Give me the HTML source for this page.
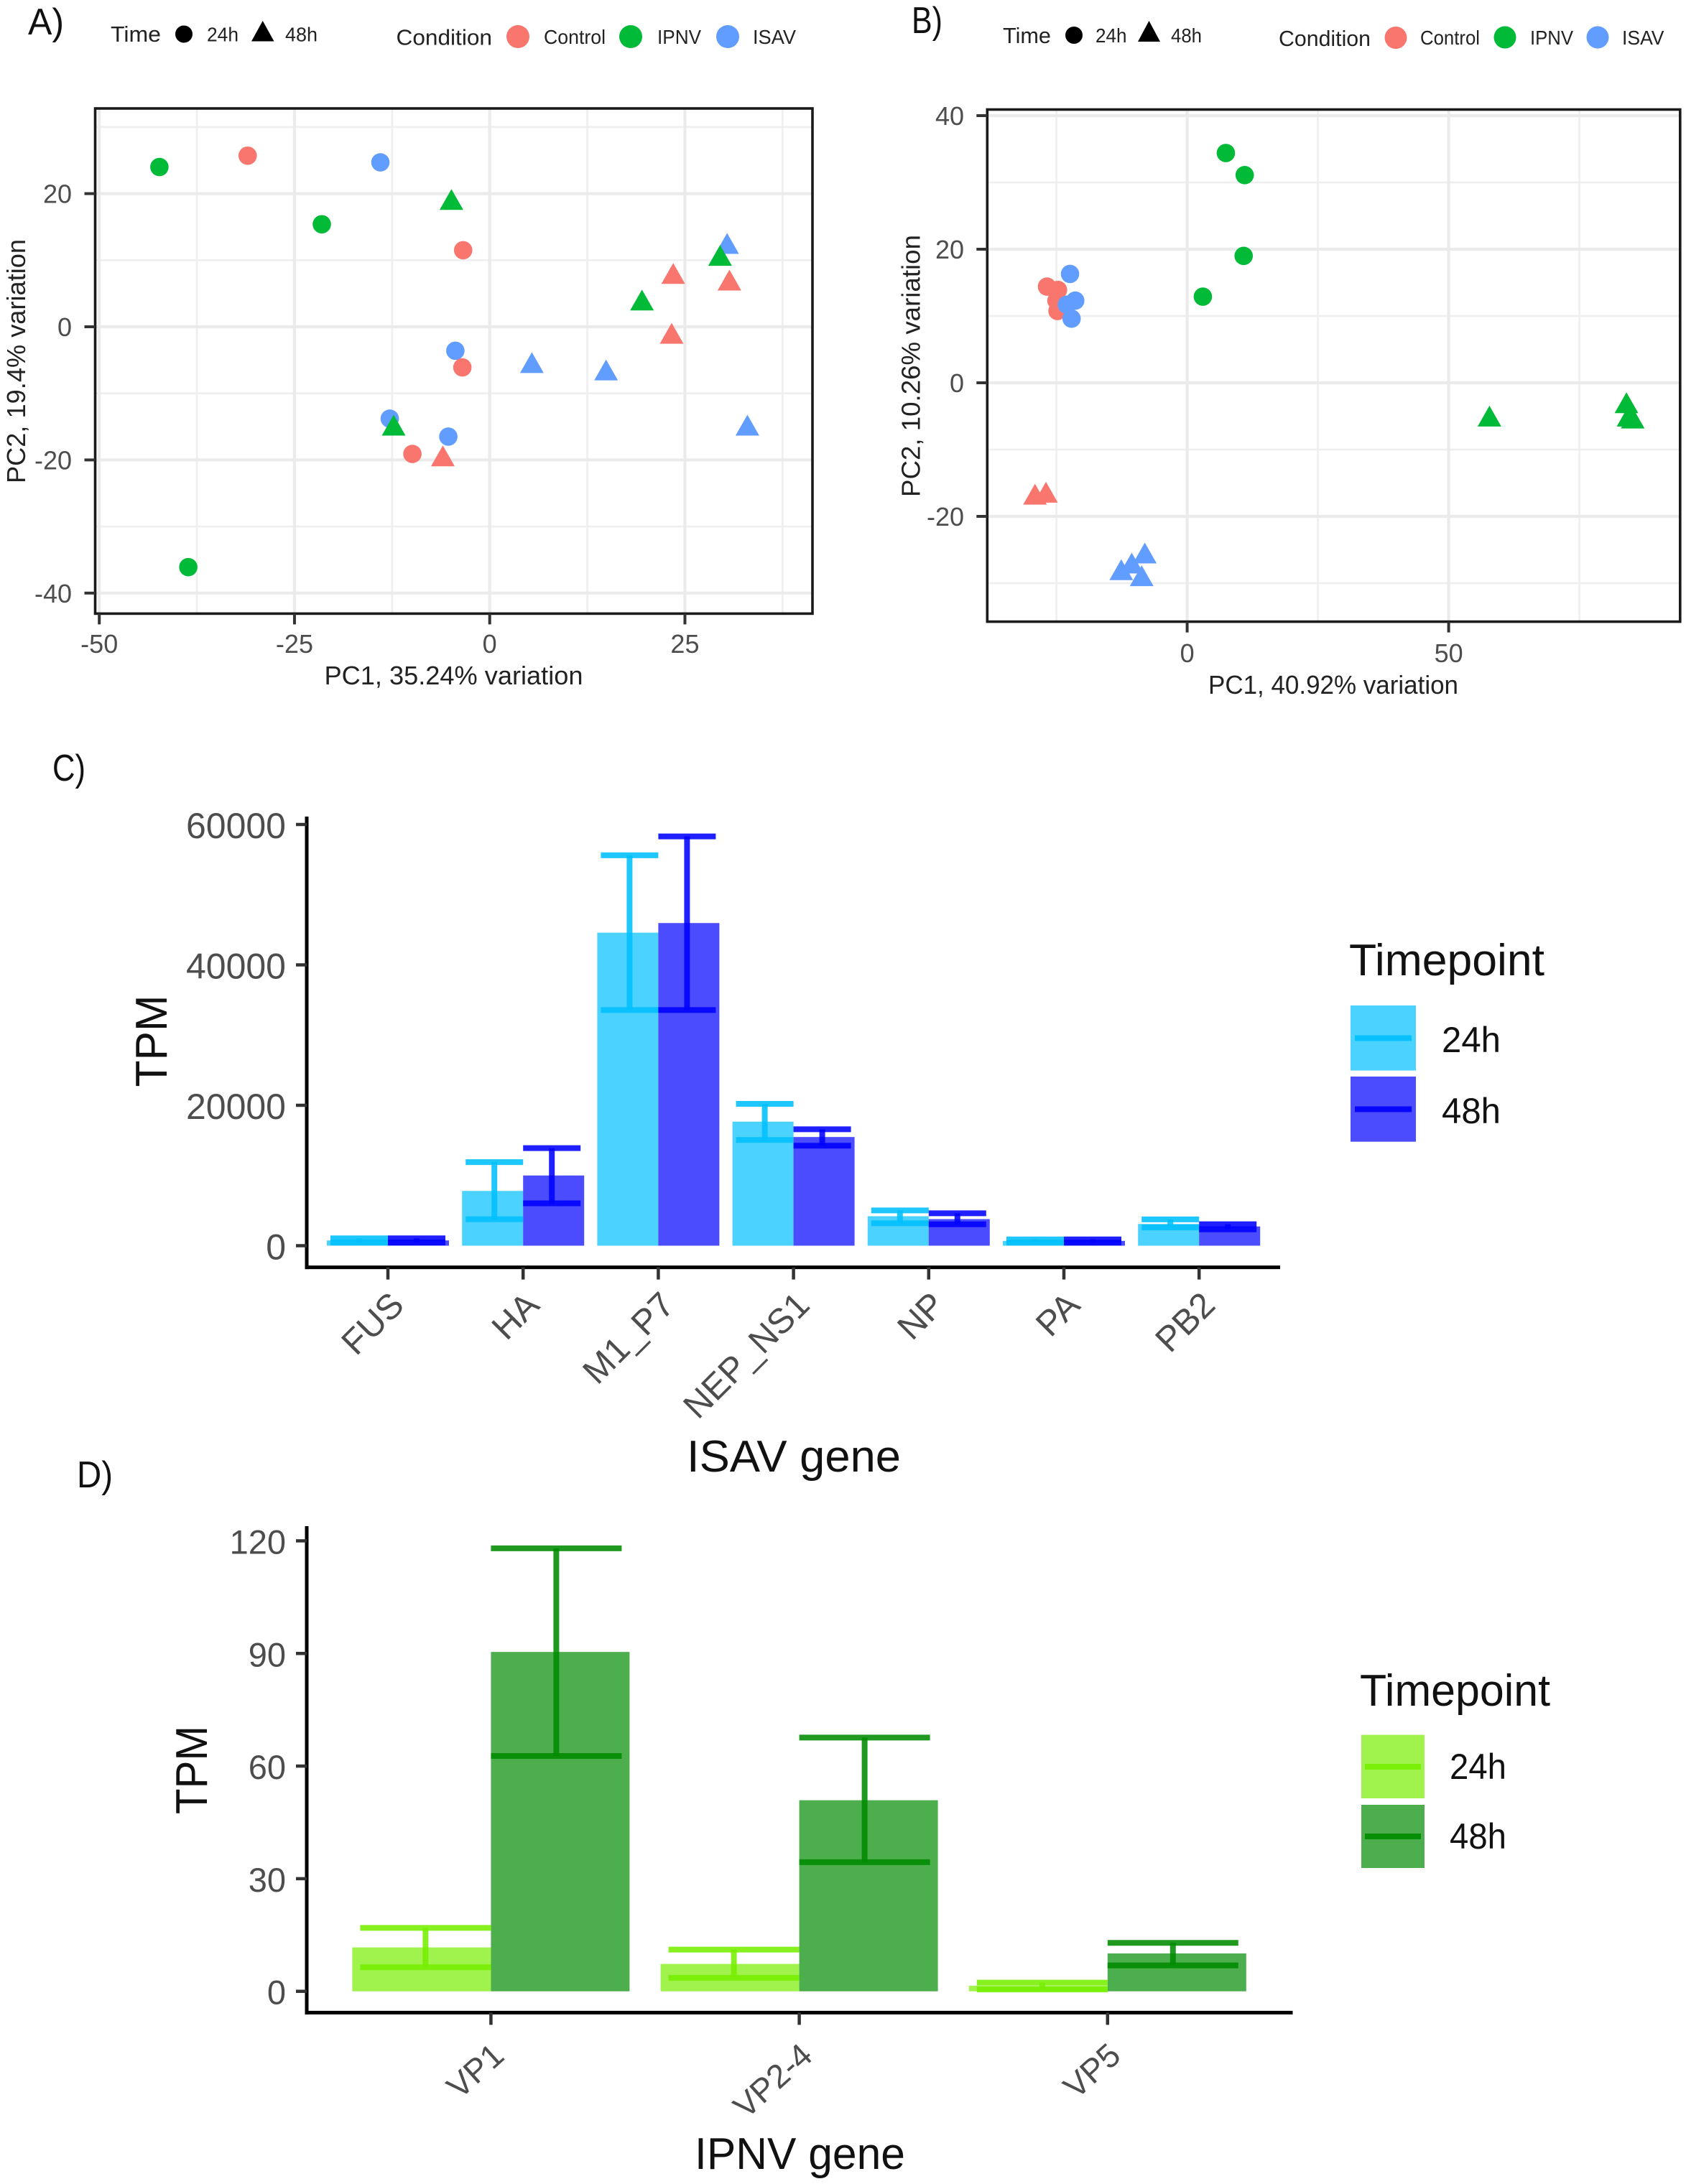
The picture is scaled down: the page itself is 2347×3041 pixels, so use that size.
<!DOCTYPE html>
<html lang="en">
<head>
<meta charset="utf-8">
<title>PCA and viral gene expression figure</title>
<style>
html,body{margin:0;padding:0;background:#fff;}
svg{display:block;font-family:"Liberation Sans",Arial,sans-serif;}
.lett{font-size:52px;fill:#111;}
.axt{font-size:36px;fill:#222;}
.lg{font-size:31px;fill:#222;}
.lgs{font-size:28px;fill:#222;}
.big{font-size:62px;fill:#111;}
.lab{font-size:50px;fill:#111;}
</style>
</head>
<body>
<svg id="fig" xmlns="http://www.w3.org/2000/svg" width="2347" height="3041" viewBox="0 0 2347 3041">
<rect x="0" y="0" width="2347" height="3041" fill="#fff"/>

<text class="lett" x="39" y="48" textLength="50" lengthAdjust="spacingAndGlyphs">A)</text>
<text class="lett" x="1269" y="46" textLength="43" lengthAdjust="spacingAndGlyphs">B)</text>
<text class="lett" x="73" y="1087" textLength="46" lengthAdjust="spacingAndGlyphs">C)</text>
<text class="lett" x="107" y="2071" textLength="50" lengthAdjust="spacingAndGlyphs">D)</text>

<g>
<text class="lg" x="154" y="58" textLength="70" lengthAdjust="spacingAndGlyphs">Time</text>
<circle cx="256" cy="47.5" r="12" fill="#000"/>
<text class="lgs" x="288" y="57.5" textLength="44" lengthAdjust="spacingAndGlyphs">24h</text>
<polygon points="350,57.5 381.5,57.5 365.7,29" fill="#000"/>
<text class="lgs" x="397" y="57.5" textLength="45" lengthAdjust="spacingAndGlyphs">48h</text>
<text class="lg" x="551.5" y="62.5" textLength="133.5" lengthAdjust="spacingAndGlyphs">Condition</text>
<circle cx="721" cy="51" r="16" fill="#F8766D"/>
<text class="lgs" x="757" y="61" textLength="86" lengthAdjust="spacingAndGlyphs">Control</text>
<circle cx="878" cy="51" r="16" fill="#00BA38"/>
<text class="lgs" x="915" y="61" textLength="61" lengthAdjust="spacingAndGlyphs">IPNV</text>
<circle cx="1013" cy="51" r="16" fill="#619CFF"/>
<text class="lgs" x="1048" y="61" textLength="60" lengthAdjust="spacingAndGlyphs">ISAV</text>
</g>

<g>
<text class="lg" x="1396" y="60" textLength="67" lengthAdjust="spacingAndGlyphs">Time</text>
<circle cx="1495" cy="49" r="12" fill="#000"/>
<text class="lgs" x="1525" y="59" textLength="43.5" lengthAdjust="spacingAndGlyphs">24h</text>
<polygon points="1584,58 1615,58 1599.5,29" fill="#000"/>
<text class="lgs" x="1630" y="59" textLength="43" lengthAdjust="spacingAndGlyphs">48h</text>
<text class="lg" x="1780" y="64" textLength="128" lengthAdjust="spacingAndGlyphs">Condition</text>
<circle cx="1943" cy="52.5" r="15.5" fill="#F8766D"/>
<text class="lgs" x="1977" y="62" textLength="83" lengthAdjust="spacingAndGlyphs">Control</text>
<circle cx="2095" cy="52" r="15.5" fill="#00BA38"/>
<text class="lgs" x="2130" y="62" textLength="60" lengthAdjust="spacingAndGlyphs">IPNV</text>
<circle cx="2224" cy="52" r="15.5" fill="#619CFF"/>
<text class="lgs" x="2258" y="62" textLength="58.5" lengthAdjust="spacingAndGlyphs">ISAV</text>
</g>

<text class="axt" x="451.5" y="953" textLength="360" lengthAdjust="spacingAndGlyphs">PC1, 35.24% variation</text>
<text class="axt" transform="translate(35,673) rotate(-90)" x="0" y="0" textLength="340" lengthAdjust="spacingAndGlyphs">PC2, 19.4% variation</text>
<text class="axt" x="1682" y="966" textLength="348" lengthAdjust="spacingAndGlyphs">PC1, 40.92% variation</text>
<text class="axt" transform="translate(1280.5,692) rotate(-90)" x="0" y="0" textLength="365" lengthAdjust="spacingAndGlyphs">PC2, 10.26% variation</text>

<text class="big" transform="translate(232,1513.5) rotate(-90)" x="0" y="0" textLength="128" lengthAdjust="spacingAndGlyphs">TPM</text>
<text class="big" x="956" y="2049" textLength="298" lengthAdjust="spacingAndGlyphs">ISAV gene</text>
<text class="big" transform="translate(288,2526) rotate(-90)" x="0" y="0" textLength="123" lengthAdjust="spacingAndGlyphs">TPM</text>
<text class="big" x="967" y="3020" textLength="293" lengthAdjust="spacingAndGlyphs">IPNV gene</text>

<g>
<text class="big" x="1878" y="1358" textLength="272" lengthAdjust="spacingAndGlyphs">Timepoint</text>
<rect x="1880" y="1400" width="91" height="90.6" fill="#00bfff" fill-opacity="0.7"/>
<rect x="1886" y="1441.5" width="79" height="8" fill="#00bfff" fill-opacity="0.9"/>
<rect x="1880" y="1499" width="91" height="90.7" fill="#0000ff" fill-opacity="0.7"/>
<rect x="1886" y="1540.5" width="79" height="8" fill="#0000ff" fill-opacity="0.9"/>
<text class="lab" x="2007" y="1465" textLength="82" lengthAdjust="spacingAndGlyphs">24h</text>
<text class="lab" x="2007" y="1564" textLength="82" lengthAdjust="spacingAndGlyphs">48h</text>
</g>

<g>
<text class="big" x="1893" y="2375" textLength="265" lengthAdjust="spacingAndGlyphs">Timepoint</text>
<rect x="1895" y="2415.6" width="88" height="88.4" fill="#76EE00" fill-opacity="0.7"/>
<rect x="1900" y="2456" width="78" height="8" fill="#76EE00" fill-opacity="0.9"/>
<rect x="1895" y="2513" width="88" height="88" fill="#008B00" fill-opacity="0.7"/>
<rect x="1900" y="2553" width="78" height="8" fill="#008B00" fill-opacity="0.9"/>
<text class="lab" x="2018" y="2477" textLength="79" lengthAdjust="spacingAndGlyphs">24h</text>
<text class="lab" x="2018" y="2574" textLength="79" lengthAdjust="spacingAndGlyphs">48h</text>
</g>

<g id="plots"></g>
</svg>

<script>
// Panel A data (PCA, all conditions)
const pcaAx = [-42.3,-31,-14,-21.5,-3.4,-4.4,-3.5,-12.8,-5.3,-9.9,-38.6,-4.9,30.4,29.5,23.5,30.7,19.5,23.3,5.4,14.9,33,-12.3,-6];
const pcaAy = [24,25.7,24.7,15.4,11.5,-3.6,-6.1,-13.8,-16.5,-19.1,-36.1,18.9,12.3,10.5,7.8,6.8,3.8,-1.2,-5.6,-6.7,-15,-15,-19.6];
const pcaAcondition = ['IPNV','Control','ISAV','IPNV','Control','ISAV','Control','ISAV','ISAV','Control','IPNV','IPNV','ISAV','IPNV','Control','Control','IPNV','Control','ISAV','ISAV','ISAV','IPNV','Control'];
const pcaAtime = ['24h','24h','24h','24h','24h','24h','24h','24h','24h','24h','24h','48h','48h','48h','48h','48h','48h','48h','48h','48h','48h','48h','48h'];
const pcaAxTicks = [-50,-25,0,25];
const pcaAyTicks = [20,0,-20,-40];
const pcaAxMinor = [-37.5,-12.5,12.5,37.5];
const pcaAyMinor = [30,10,-10,-30];

// Panel B data (PCA)
const pcaBx = [7.4,11,10.8,3,-26.8,-24.7,-25,-24.8,-22.4,-21.4,-23,-22.1,57.8,84,84.4,85.2,-29.1,-27,-12.6,-10.6,-8.1,-8.7];
const pcaBy = [34.4,31.1,19,12.9,14.4,13.9,12.3,10.75,16.3,12.3,11.7,9.6,-5.2,-3.2,-5.2,-5.5,-16.9,-16.6,-28.2,-27.2,-25.7,-29.1];
const pcaBcondition = ['IPNV','IPNV','IPNV','IPNV','Control','Control','Control','Control','ISAV','ISAV','ISAV','ISAV','IPNV','IPNV','IPNV','IPNV','Control','Control','ISAV','ISAV','ISAV','ISAV'];
const pcaBtime = ['24h','24h','24h','24h','24h','24h','24h','24h','24h','24h','24h','24h','48h','48h','48h','48h','48h','48h','48h','48h','48h','48h'];
const pcaBxTicks = [0,50];
const pcaByTicks = [40,20,0,-20];
const pcaBxMinor = [-25,25,75];
const pcaByMinor = [30,10,-10,-30];

// Panel C data (ISAV genes)
const isavGenes = ['FUS','HA','M1_P7','NEP_NS1','NP','PA','PB2'];
const isav24 = [750,7800,44590,17670,4200,685,3100];
const isav24Low = [450,3770,33565,15070,3200,430,2600];
const isav24High = [1050,11900,55620,20200,5020,900,3745];
const isav48 = [750,10000,45960,15480,3790,685,2740];
const isav48Low = [450,6030,33565,14250,3060,430,2330];
const isav48High = [1050,13900,58300,16580,4610,900,3060];
const isavTicks = [60000,40000,20000,0];

// Panel D data (IPNV genes)
const ipnvGenes = ['VP1','VP2-4','VP5'];
const ipnv24 = [11.7,7.3,1.5];
const ipnv24Low = [6.4,3.6,0.5];
const ipnv24High = [16.9,11.1,2.3];
const ipnv48 = [90.4,50.9,10.1];
const ipnv48Low = [62.7,34.4,6.9];
const ipnv48High = [118,67.6,12.9];
const ipnvTicks = [120,90,60,30,0];

const NS = 'http://www.w3.org/2000/svg';
const plots = document.getElementById('plots');
const condColor = {Control:'#F8766D', IPNV:'#00BA38', ISAV:'#619CFF'};

function mk(tag, attrs, parent){
  const el = document.createElementNS(NS, tag);
  for (const k in attrs) el.setAttribute(k, attrs[k]);
  (parent || plots).appendChild(el);
  return el;
}
function line(x1,y1,x2,y2,stroke,w,opacity){
  return mk('line',{x1:x1,y1:y1,x2:x2,y2:y2,stroke:stroke,'stroke-width':w,'stroke-opacity':opacity===undefined?1:opacity});
}
function tickText(txt,x,y,size,anchor,rot){
  const el = mk('text',{x:0,y:0,'font-size':size,fill:'#4d4d4d','text-anchor':anchor,transform:'translate('+x+','+y+')'+(rot?' rotate('+rot+')':'')});
  el.textContent = txt;
  return el;
}

function drawPca(cfg){
  const X = cfg.x, Y = cfg.y, b = cfg.box;
  cfg.xMinor.forEach(function(v){
    const el = line(X(v),b.top,X(v),b.bottom,'#efefef',2.7);
    
    
  });
  cfg.yMinor.forEach(function(v){
    const el = line(b.left,Y(v),b.right,Y(v),'#efefef',2.7);
    
    
  });
  cfg.xTicks.forEach(function(v){
    const el = line(X(v),b.top,X(v),b.bottom,'#ebebeb',4.2);
    
    
  });
  cfg.yTicks.forEach(function(v){
    const el = line(b.left,Y(v),b.right,Y(v),'#ebebeb',4.2);
    
    
  });
  cfg.px.forEach(function(v,i){
    const cx = X(v), cy = Y(cfg.py[i]), col = condColor[cfg.cond[i]];
    let el;
    if (cfg.time[i] === '24h') {
      el = mk('circle',{cx:cx,cy:cy,r:12.8,fill:col});
    } else {
      el = mk('polygon',{points:(cx-16.5)+','+(cy+12.5)+' '+(cx+16.5)+','+(cy+12.5)+' '+cx+','+(cy-16.5),fill:col});
    }
    
    
  });
  const frame = mk('rect',{x:b.left,y:b.top,width:b.right-b.left,height:b.bottom-b.top,fill:'none',stroke:'#1a1a1a','stroke-width':3.6});
  
  
  cfg.xTicks.forEach(function(v){
    const t = line(X(v),b.bottom,X(v),b.bottom+15,'#333',4);
    
    
    const l = tickText(String(v),X(v),cfg.xLabelY,36,'middle');
    
    
  });
  cfg.yTicks.forEach(function(v){
    const t = line(b.left-15,Y(v),b.left,Y(v),'#333',4);
    
    
    const l = tickText(String(v),cfg.yLabelX,Y(v)+13,36,'end');
    
    
  });
}

function errBar(cx,half,lowY,highY,color,opacity){
  const g = mk('g',{stroke:color,'stroke-opacity':opacity,'stroke-width':8,fill:'none'});
  
  
  mk('line',{x1:cx,y1:lowY,x2:cx,y2:highY},g);
  mk('line',{x1:cx-half,y1:highY,x2:cx+half,y2:highY},g);
  mk('line',{x1:cx-half,y1:lowY,x2:cx+half,y2:lowY},g);
}

function drawBars(cfg){
  const Y = cfg.y, X = cfg.x, a = cfg.axis;
  cfg.genes.forEach(function(g,i){
    const c = X(i);
    const r1 = mk('rect',{x:c-cfg.barW,y:Y(cfg.v1[i]),width:cfg.barW,height:Y(0)-Y(cfg.v1[i]),fill:cfg.c1,'fill-opacity':0.7});
    
    
    const r2 = mk('rect',{x:c,y:Y(cfg.v2[i]),width:cfg.barW,height:Y(0)-Y(cfg.v2[i]),fill:cfg.c2,'fill-opacity':0.7});
    
    
    errBar(c-cfg.capH,cfg.capH,Y(cfg.l1[i]),Y(cfg.h1[i]),cfg.c1,0.88);
    errBar(c+cfg.capH,cfg.capH,Y(cfg.l2[i]),Y(cfg.h2[i]),cfg.c2,0.88);
  });
  const ax = line(a.x,a.top,a.x,a.y+2.5,'#000',5);
  
  
  const ay = line(a.x-2.5,a.y,a.right,a.y,'#000',5);
  
  
  cfg.ticks.forEach(function(v){
    const t = line(a.x-15,Y(v),a.x,Y(v),'#333',4.5);
    
    
    const l = tickText(String(v),398,Y(v)+cfg.yOff,cfg.ySize,'end');
    
    
  });
  cfg.genes.forEach(function(g,i){
    const t = line(X(i),a.y,X(i),a.y+17,'#333',4.5);
    
    
    const l = tickText(g,X(i)+cfg.lblDx,cfg.lblY,cfg.lblSize,'end',cfg.lblAngle);
    
    
  });
}

// Axis functions
function xA(v){ return 681.7 + 10.87*v; }
function yA(v){ return 455 - 9.27*v; }
function xB(v){ return 1652.6 + 7.28*v; }
function yB(v){ return 533 - 9.3*v; }
function xC(i){ return 540 + 188.2*i; }
function yC(v){ return 1734.5 - 0.009775*v; }
function xD(i){ return 683.4 + 429.2*i; }
function yD(v){ return 2772.7 - 5.227*v; }

drawPca({x:xA,y:yA,box:{left:132.5,right:1131,top:151,bottom:854.4},px:pcaAx,py:pcaAy,cond:pcaAcondition,time:pcaAtime,
  xTicks:pcaAxTicks,yTicks:pcaAyTicks,xMinor:pcaAxMinor,yMinor:pcaAyMinor,xLabelY:909,yLabelX:100});
drawPca({x:xB,y:yB,box:{left:1374.3,right:2338.8,top:152.5,bottom:865.6},px:pcaBx,py:pcaBy,cond:pcaBcondition,time:pcaBtime,
  xTicks:pcaBxTicks,yTicks:pcaByTicks,xMinor:pcaBxMinor,yMinor:pcaByMinor,xLabelY:922,yLabelX:1342});

drawBars({x:xC,y:yC,genes:isavGenes,v1:isav24,l1:isav24Low,h1:isav24High,v2:isav48,l2:isav48Low,h2:isav48High,
  c1:'#00bfff',c2:'#0000ff',barW:85,capH:40,ticks:isavTicks,axis:{x:427,top:1137,y:1764.6,right:1782},
  yOff:19,ySize:50,lblDx:25,lblY:1820,lblSize:49,lblAngle:-45});
drawBars({x:xD,y:yD,genes:ipnvGenes,v1:ipnv24,l1:ipnv24Low,h1:ipnv24High,v2:ipnv48,l2:ipnv48Low,h2:ipnv48High,
  c1:'#76EE00',c2:'#008B00',barW:193,capH:91,ticks:ipnvTicks,axis:{x:427,top:2125,y:2802.4,right:1799.5},
  yOff:18,ySize:47,lblDx:21,lblY:2866,lblSize:46,lblAngle:-42});
</script>
</body>
</html>
